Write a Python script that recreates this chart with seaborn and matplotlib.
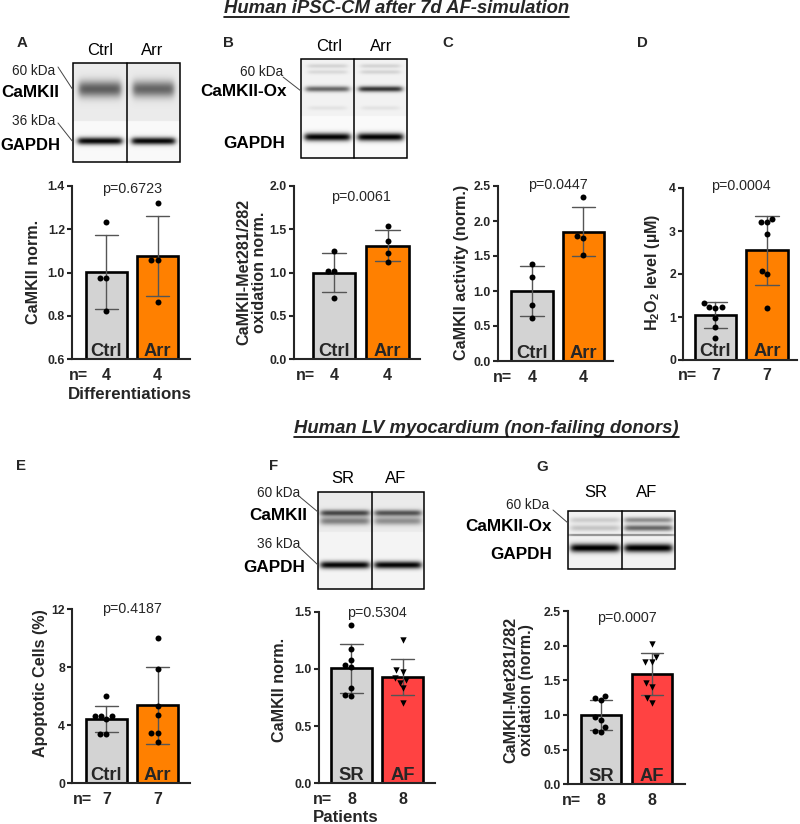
import numpy as np
import pandas as pd
import matplotlib
matplotlib.use("Agg")
import matplotlib.pyplot as plt
import matplotlib.transforms as mtrans
from matplotlib.patches import Rectangle
import seaborn as sns

# ---------------- data ----------------
groups_ipsc = ["Ctrl", "Arr"]
groups_lv = ["SR", "AF"]

camkii_ctrl = [1.235, 0.975, 0.975, 0.82]
camkii_arr = [1.32, 1.06, 1.06, 0.865]
ox_ctrl = [1.25, 1.02, 1.02, 0.70]
ox_arr = [1.54, 1.36, 1.22, 1.12]
act_ctrl = [1.39, 1.20, 0.80, 0.61]
act_arr = [2.34, 1.78, 1.76, 1.52]
h2o2_ctrl = [1.32, 1.24, 1.24, 1.22, 0.98, 0.76, 0.52]
h2o2_arr = [3.27, 3.22, 3.20, 2.93, 2.06, 1.99, 1.22]
apo_ctrl = [5.97, 4.60, 4.60, 4.60, 4.40, 3.40, 3.36]
apo_arr = [9.98, 7.87, 5.28, 4.70, 3.43, 3.43, 2.80]
lv_camkii_sr = [1.38, 1.17, 1.08, 1.03, 1.02, 0.83, 0.77, 0.76]
lv_camkii_af = [1.25, 0.99, 0.97, 0.92, 0.90, 0.88, 0.83, 0.70]
lv_ox_sr = [1.27, 1.25, 1.21, 0.97, 0.93, 0.83, 0.77, 0.76]
lv_ox_af = [2.02, 1.84, 1.77, 1.77, 1.46, 1.41, 1.24, 1.18]

p_values = ["p=0.6723", "p=0.0061", "p=0.0447", "p=0.0004",
            "p=0.4187", "p=0.5304", "p=0.0007"]

ticks_A = [0.6, 0.8, 1.0, 1.2, 1.4]
ticklabels_A = ["0.6", "0.8", "1.0", "1.2", "1.4"]
ticks_B = [0.0, 0.5, 1.0, 1.5, 2.0]
ticklabels_B = ["0.0", "0.5", "1.0", "1.5", "2.0"]
ticks_C = [0.0, 0.5, 1.0, 1.5, 2.0, 2.5]
ticklabels_C = ["0.0", "0.5", "1.0", "1.5", "2.0", "2.5"]
ticks_D = [0, 1, 2, 3, 4]
ticklabels_D = ["0", "1", "2", "3", "4"]
ticks_E = [0, 4, 8, 12]
ticklabels_E = ["0", "4", "8", "12"]
ticks_F = [0.0, 0.5, 1.0, 1.5]
ticklabels_F = ["0.0", "0.5", "1.0", "1.5"]
ticks_G = [0.0, 0.5, 1.0, 1.5, 2.0, 2.5]
ticklabels_G = ["0.0", "0.5", "1.0", "1.5", "2.0", "2.5"]

GRAY, ORANGE, RED = "#d3d3d3", "#ff8000", "#ff4242"

# ---------------- style ----------------
sns.set_style("ticks")
plt.rcParams["font.family"] = ["Liberation Sans", "DejaVu Sans"]
plt.rcParams["mathtext.fontset"] = "custom"
plt.rcParams["mathtext.rm"] = "Liberation Sans"
plt.rcParams["mathtext.bf"] = "Liberation Sans:bold"
plt.rcParams["mathtext.it"] = "Liberation Sans:italic"

W, H = 800, 824
fig = plt.figure(figsize=(W / 100, H / 100), dpi=100)
fig.patch.set_facecolor("white")

# overlay in pixel coordinates
ov = fig.add_axes([0, 0, 1, 1])
ov.set_xlim(0, W)
ov.set_ylim(H, 0)
ov.axis("off")
ov.patch.set_alpha(0)

panels = [
    dict(letter="A", rect=(72, 190, 186, 359), xlim=(-0.676, 1.637), ylim=(0.6, 1.4),
         ticks=ticks_A, tl=ticklabels_A, names=groups_ipsc, vals=[camkii_ctrl, camkii_arr],
         colors=[GRAY, ORANGE], markers=["o", "o"], ylabel="CaMKII norm.",
         ylab=(34, 272), p=p_values[0], pbase=193, nx=-0.37),
    dict(letter="B", rect=(294, 420, 186, 359), xlim=(-0.748, 1.607), ylim=(0, 2.0),
         ticks=ticks_B, tl=ticklabels_B, names=groups_ipsc, vals=[ox_ctrl, ox_arr],
         colors=[GRAY, ORANGE], markers=["o", "o"],
         ylabel="CaMKII-Met281/282\noxidation norm.",
         ylab=(252, 272), p=p_values[1], pbase=201, nx=-0.36),
    dict(letter="C", rect=(498, 613, 186, 361), xlim=(-0.66, 1.573), ylim=(0, 2.5),
         ticks=ticks_C, tl=ticklabels_C, names=groups_ipsc, vals=[act_ctrl, act_arr],
         colors=[GRAY, ORANGE], markers=["o", "o"], ylabel="CaMKII activity (norm.)",
         ylab=(461, 272), p=p_values[2], pbase=189, nx=-0.39),
    dict(letter="D", rect=(683, 797, 188, 360), xlim=(-0.631, 1.583), ylim=(0, 4),
         ticks=ticks_D, tl=ticklabels_D, names=groups_ipsc, vals=[h2o2_ctrl, h2o2_arr],
         colors=[GRAY, ORANGE], markers=["o", "o"],
         ylabel=r"H$_\mathbf{2}$O$_\mathbf{2}$ level (µM)",
         ylab=(653, 272), p=p_values[3], pbase=190, nx=-0.36),
    dict(letter="E", rect=(72, 190, 609, 783), xlim=(-0.676, 1.637), ylim=(0, 12),
         ticks=ticks_E, tl=ticklabels_E, names=groups_ipsc, vals=[apo_ctrl, apo_arr],
         colors=[GRAY, ORANGE], markers=["o", "o"], ylabel="Apoptotic Cells (%)",
         ylab=(41, 683), p=p_values[4], pbase=612.7, nx=-0.28),
    dict(letter="F", rect=(319, 435, 611.7, 783.3), xlim=(-0.637, 1.637), ylim=(0, 1.5),
         ticks=ticks_F, tl=ticklabels_F, names=groups_lv, vals=[lv_camkii_sr, lv_camkii_af],
         colors=[GRAY, RED], markers=["o", "v"], ylabel="CaMKII norm.",
         ylab=(280, 690), p=p_values[5], pbase=616.7, nx=-0.38),
    dict(letter="G", rect=(568, 685, 611, 784.3), xlim=(-0.647, 1.647), ylim=(0, 2.5),
         ticks=ticks_G, tl=ticklabels_G, names=groups_lv, vals=[lv_ox_sr, lv_ox_af],
         colors=[GRAY, RED], markers=["o", "v"],
         ylabel="CaMKII-Met281/282\noxidation (norm.)",
         ylab=(519, 690), p=p_values[6], pbase=621.7, nx=-0.39),
]

for pan in panels:
    x0, x1, y0, y1 = pan["rect"]
    ax = fig.add_axes([x0 / W, 1 - y1 / H, (x1 - x0) / W, (y1 - y0) / H])
    ax.patch.set_alpha(0)
    names = pan["names"]
    df = pd.DataFrame({
        "group": np.repeat(names, [len(v) for v in pan["vals"]]),
        "value": np.concatenate(pan["vals"]),
    })
    sns.barplot(data=df, x="group", y="value", hue="group", order=names, hue_order=names,
                palette=dict(zip(names, pan["colors"])), legend=False, errorbar="sd",
                capsize=0.45, err_kws={"color": "#555555", "linewidth": 1.0},
                edgecolor="black", linewidth=1.9, saturation=1, width=0.8, ax=ax)
    for name, mk in zip(names, pan["markers"]):
        sub = df[df["group"] == name]
        sns.swarmplot(data=sub, x="group", y="value", order=names, color="black",
                      marker=mk, size=4.6 if mk == "v" else 4.3, linewidth=0, ax=ax, zorder=4)
    ax.set_xlim(*pan["xlim"])
    ax.set_ylim(*pan["ylim"])
    ax.set_xticks([])
    ax.set_yticks(pan["ticks"])
    ax.set_yticklabels(pan["tl"], fontweight="bold", fontsize=8.8)
    ax.set_xlabel("")
    sns.despine(ax=ax)
    for s in ("left", "bottom"):
        ax.spines[s].set_linewidth(1.5)
    ax.tick_params(axis="y", direction="out", length=3.6, width=1.5, pad=1.5)
    hpx = y1 - y0
    wpx = x1 - x0
    ax.set_ylabel(pan["ylabel"], fontsize=11.6, fontweight="bold", va="center",
                  linespacing=1.05)
    ax.yaxis.set_label_coords((pan["ylab"][0] - x0) / wpx, (y1 - pan["ylab"][1]) / hpx)
    bt = mtrans.blended_transform_factory(ax.transData, ax.transAxes)
    for i, name in enumerate(names):
        ax.text(i, 3.5 / hpx, name, transform=bt, ha="center", va="baseline",
                fontsize=13.2, fontweight="bold", zorder=5)
        ax.text(i, -20.5 / hpx, str(len(pan["vals"][i])), transform=bt, ha="center",
                va="baseline", fontsize=11.5, fontweight="bold", clip_on=False)
    ax.text(pan["nx"], -20.5 / hpx, "n=", transform=bt, ha="right", va="baseline",
            fontsize=11.5, fontweight="bold", clip_on=False)
    ax.text(0.5, (y1 - pan["pbase"]) / hpx, pan["p"], transform=bt, ha="center",
            va="baseline", fontsize=10.3, clip_on=False)

# panel letters
for letter, (lx, ly) in zip("ABCDEFG", [(22, 47), (228, 47), (448, 47), (642, 47),
                                        (21, 470), (274, 470), (542, 471)]):
    ov.text(lx, ly, letter, ha="center", va="baseline", fontsize=10.8, fontweight="bold")

# footers
ov.text(68, 399, "Differentiations", ha="left", va="baseline", fontsize=12.2, fontweight="bold")
ov.text(313, 822, "Patients", ha="left", va="baseline", fontsize=12.2, fontweight="bold")

# section titles
titles = [("Human iPSC-CM after 7d AF-simulation", 396.5, 13.3),
          ("Human LV myocardium (non-failing donors)", 486.5, 433.3)]
title_artists = []
for txt, tx, ty in titles:
    t = ov.text(tx, ty, txt, ha="center", va="baseline", fontsize=13.3,
                fontweight="bold", style="italic")
    title_artists.append((t, ty))


# ---------------- western blot illustrations ----------------
def blot(x0, x1, y0, y1, xdiv, ysplit, bg_top, bg_bot, bands):
    sc = 3
    w = int(round((x1 - x0) * sc))
    h = int(round((y1 - y0) * sc))
    xs = x0 + (np.arange(w) + 0.5) / sc
    ys = y0 + (np.arange(h) + 0.5) / sc
    X, Y = np.meshgrid(xs, ys)
    img = np.where(Y < ysplit, bg_top, bg_bot).astype(float)
    lanes = [(x0, xdiv), (xdiv, x1)]
    for yc, sy, darks, margin in bands:
        for (l, r), d in zip(lanes, darks):
            hx = 1 / (1 + np.exp(-(X - (l + margin)) / 1.6)) * 1 / (1 + np.exp(-((r - margin) - X) / 1.6))
            img -= d * hx * np.exp(-0.5 * ((Y - yc) / sy) ** 2)
    img = np.clip(img, 0, 1)
    ov.imshow(img, cmap="gray", vmin=0, vmax=1, extent=(x0, x1, y1, y0), aspect="auto",
              interpolation="bilinear", zorder=1)
    ov.add_patch(Rectangle((x0, y0), x1 - x0, y1 - y0, fill=False, lw=1.1, ec="black", zorder=2))
    ov.plot([xdiv, xdiv], [y0, y1], color="black", lw=1.1, zorder=2)


blot(73, 180, 63, 162, 127, 121, 0.92, 0.975,
     [(89, 5.8, (0.55, 0.52), 6), (141, 2.6, (0.95, 0.95), 5)])
blot(301, 407, 59, 158, 354, 116, 0.95, 0.98,
     [(66, 1.5, (0.12, 0.12), 7), (72, 1.5, (0.10, 0.12), 7), (89, 2.0, (0.55, 0.75), 5),
      (108, 1.5, (0.06, 0.06), 8), (137, 2.8, (0.98, 0.98), 4)])
blot(318, 424, 492, 589, 372, 532, 0.92, 0.96,
     [(513, 2.2, (0.65, 0.6), 3), (521, 2.8, (0.42, 0.36), 3), (565, 2.6, (0.95, 0.95), 3)])
blot(568, 675, 511, 569, 622, 535, 0.95, 0.95,
     [(520, 2.0, (0.15, 0.40), 3), (528, 2.2, (0.18, 0.55), 3), (535, 0.6, (0.55, 0.55), 0),
      (548, 3.0, (0.98, 0.98), 3)])

# blot labels: (x, baseline, text, weight, size, ha)
blot_labels = [
    (100, 55, "Ctrl", "normal", 12, "center"), (152, 55, "Arr", "normal", 12, "center"),
    (55, 75, "60 kDa", "normal", 9.8, "right"), (59, 96.7, "CaMKII", "bold", 12.3, "right"),
    (55, 125, "36 kDa", "normal", 9.8, "right"), (60, 150, "GAPDH", "bold", 12.0, "right"),
    (329, 51, "Ctrl", "normal", 12, "center"), (381, 51, "Arr", "normal", 12, "center"),
    (283, 76, "60 kDa", "normal", 9.8, "right"), (287, 96, "CaMKII-Ox", "bold", 12.3, "right"),
    (285, 148, "GAPDH", "bold", 12.3, "right"),
    (343, 482.7, "SR", "normal", 12, "center"), (396, 482.7, "AF", "normal", 12, "center"),
    (300, 496.7, "60 kDa", "normal", 9.8, "right"), (307, 520, "CaMKII", "bold", 12.3, "right"),
    (300, 548.3, "36 kDa", "normal", 9.8, "right"), (305, 571.7, "GAPDH", "bold", 12.3, "right"),
    (596, 497.3, "SR", "normal", 12, "center"), (647, 497.3, "AF", "normal", 12, "center"),
    (549, 509, "60 kDa", "normal", 9.8, "right"), (552, 530.7, "CaMKII-Ox", "bold", 12.3, "right"),
    (552, 559, "GAPDH", "bold", 12.3, "right"),
]
for bx, by, bt_, wt, fs, ha in blot_labels:
    ov.text(bx, by, bt_, ha=ha, va="baseline", fontsize=fs, fontweight=wt,
            color="#222222" if wt == "normal" and "kDa" in bt_ else "black")

pointers = [((58, 67), (73, 90)), ((58, 123), (73, 142)), ((283, 77), (301, 91)),
            ((300, 497), (318, 512)), ((300, 548), (318, 565)), ((553, 510), (568, 523))]
for (ax0, ay0), (ax1, ay1) in pointers:
    ov.plot([ax0, ax1], [ay0, ay1], color="#444444", lw=0.7, zorder=3)

# underline the section titles
fig.canvas.draw()
renderer = fig.canvas.get_renderer()
inv = ov.transData.inverted()
for t, ty in title_artists:
    bb = t.get_window_extent(renderer=renderer)
    (lx0, _), (lx1, _) = inv.transform([[bb.x0, bb.y0], [bb.x1, bb.y1]])
    ov.plot([lx0, lx1], [ty + 3.6, ty + 3.6], color="black", lw=1.2, zorder=3)

ov.set_xlim(0, W)
ov.set_ylim(H, 0)
fig.savefig("out.png", dpi=100)
